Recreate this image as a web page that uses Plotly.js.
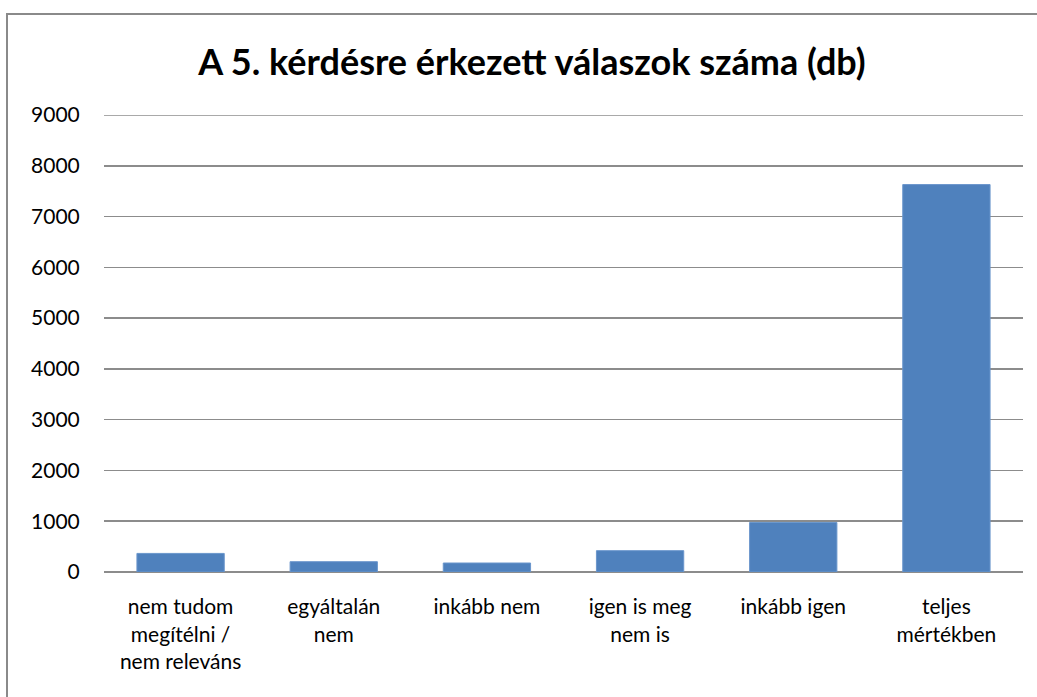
<!DOCTYPE html>
<html>
<head>
<meta charset="utf-8">
<script src="https://cdn.plot.ly/plotly-3.0.1.min.js"></script>
<style>
html,body{margin:0;padding:0;background:#fff;}
#chart{width:1037px;height:697px;}
#frame{position:absolute;left:6px;top:13px;width:1100px;height:800px;border-left:2px solid #8a8a8a;border-top:2px solid #8a8a8a;pointer-events:none;}
</style>
</head>
<body>
<div id="chart"></div>
<div id="frame"></div>
<script>
const categories = [
  "nem tudom<br>megítélni /<br>nem releváns",
  "egyáltalán<br>nem",
  "inkább nem",
  "igen is meg<br>nem is",
  "inkább igen",
  "teljes<br>mértékben"
];
const counts = [366, 203, 177, 420, 976, 7630];
const yTicks = [0, 1000, 2000, 3000, 4000, 5000, 6000, 7000, 8000, 9000];
const yMax = 9000;

const font = "Lato, 'Open Sans', sans-serif";

Plotly.newPlot('chart', [{
  type: 'bar',
  x: categories,
  y: counts,
  marker: {color: '#4F81BD', line: {color: '#6a96cc', width: 1}},
  hoverinfo: 'x+y'
}], {
  width: 1037, height: 697,
  margin: {l: 104, r: 14, t: 115, b: 125},
  paper_bgcolor: '#fff', plot_bgcolor: '#fff',
  bargap: 0.43,
  showlegend: false,
  title: {
    text: '<b>A 5. kérdésre érkezett válaszok száma (db)</b>',
    font: {family: font, size: 36, color: '#000'},
    x: 0.513, xanchor: 'center', y: 0.911, yanchor: 'middle'
  },
  shapes: [{
    type: 'line', xref: 'paper', yref: 'y', x0: 0, x1: 1, y0: yMax, y1: yMax,
    line: {color: '#8c8c8c', width: 1.5}, layer: 'below'
  }],
  xaxis: {
    type: 'category',
    tickfont: {family: font, size: 21, color: '#000'},
    ticks: 'outside', ticklen: 16, tickcolor: 'rgba(0,0,0,0)',
    showline: false, showgrid: false, zeroline: false
  },
  yaxis: {
    range: [0, yMax],
    tickvals: yTicks,
    ticktext: yTicks.map(String),
    tickfont: {family: font, size: 21, color: '#000'},
    ticks: 'outside', ticklen: 19, tickcolor: 'rgba(0,0,0,0)',
    showgrid: true, gridcolor: '#8c8c8c', gridwidth: 1.5,
    zeroline: true, zerolinecolor: '#8c8c8c', zerolinewidth: 1.5,
    showline: false
  }
}, {displayModeBar: false, staticPlot: true});
</script>
</body>
</html>
